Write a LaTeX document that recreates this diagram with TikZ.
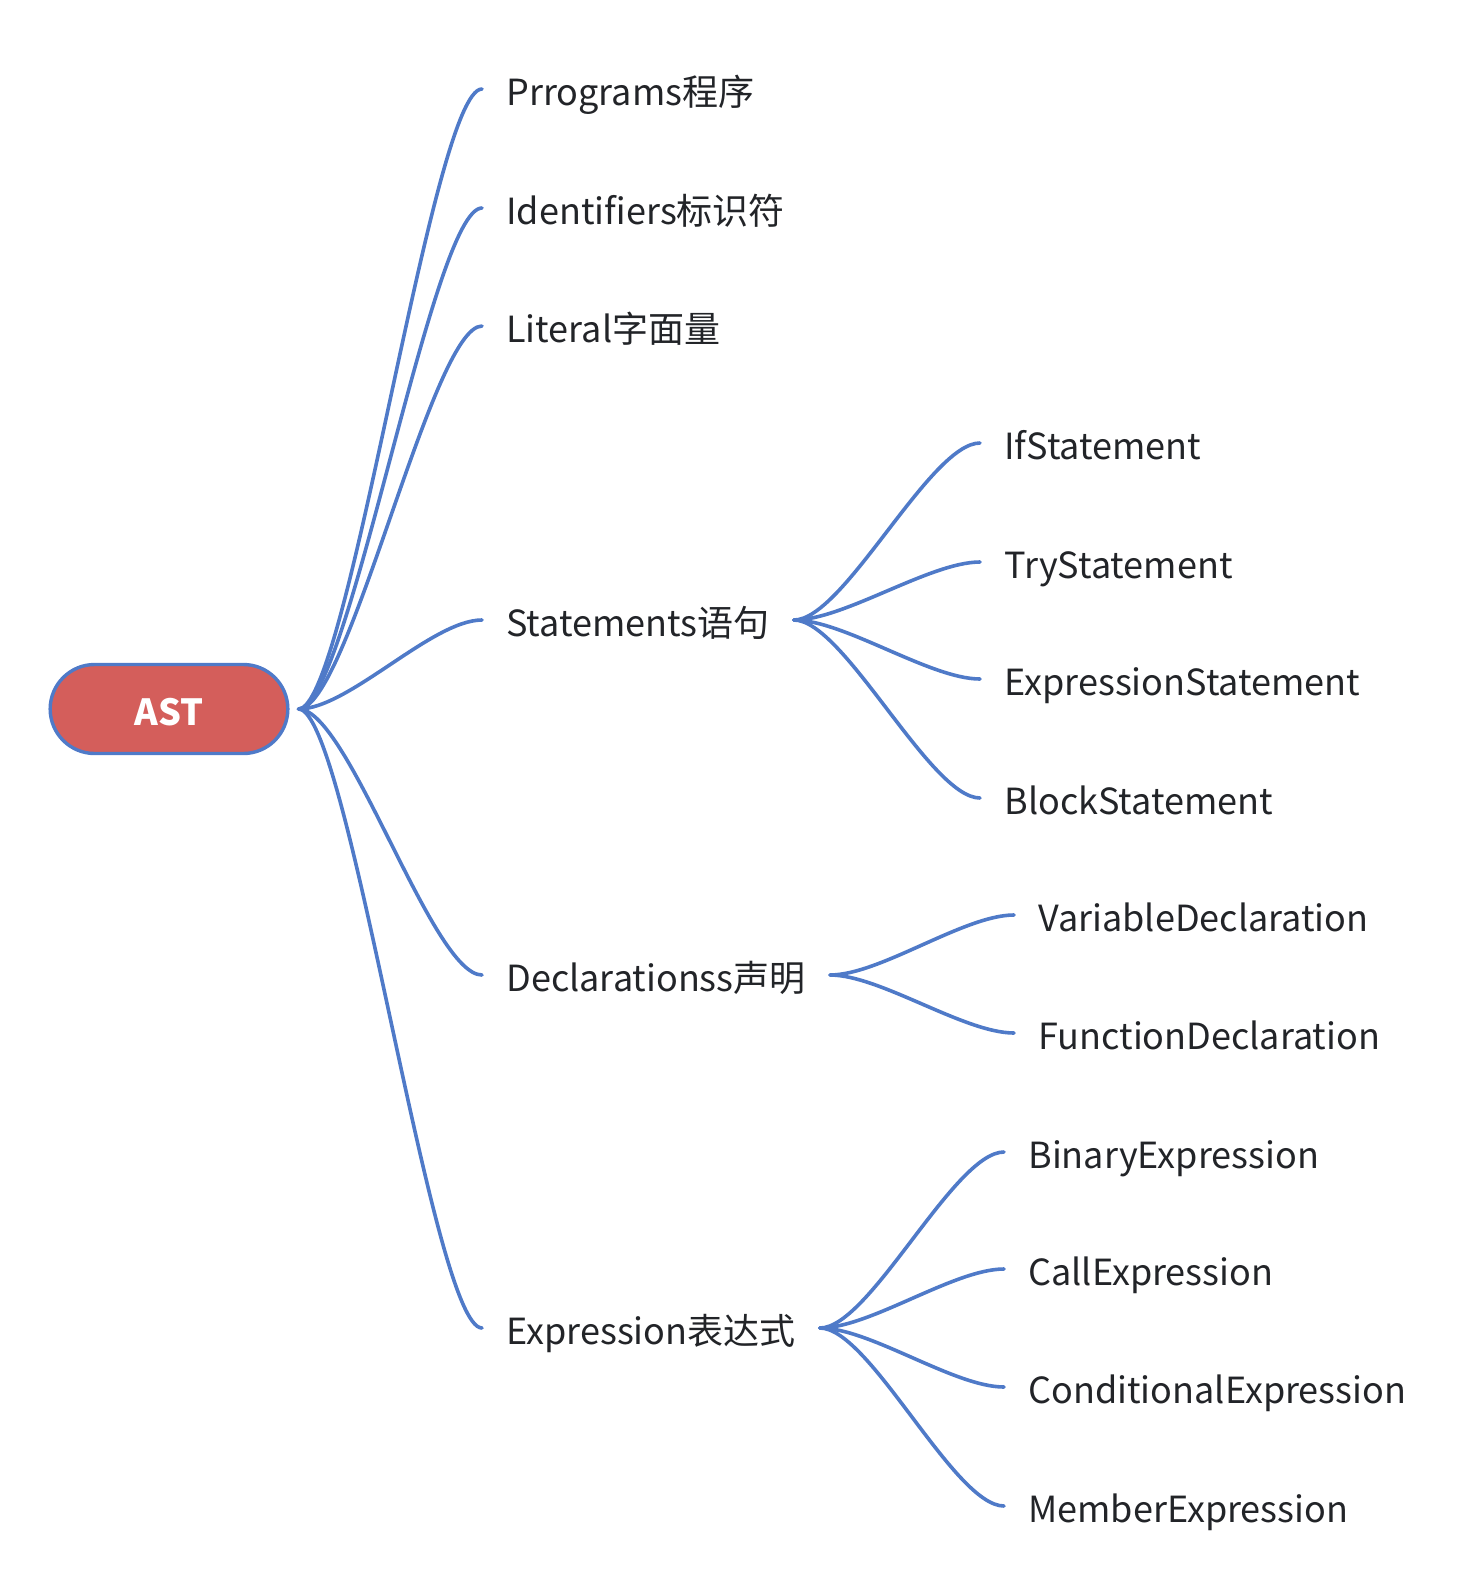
\documentclass[tikz,border=0pt]{standalone}
\usepackage{fontspec}
\setmainfont{Noto Sans CJK SC}
\usetikzlibrary{shapes.misc}
\definecolor{astred}{RGB}{212,94,91}
\definecolor{linkblue}{RGB}{79,122,200}
\definecolor{inkgray}{RGB}{34,36,40}
\tikzset{
	leaf/.style={anchor=west,inner xsep=12pt,inner ysep=0pt,text height=17pt,text depth=1pt,text=inkgray,font=\fontsize{18pt}{22pt}\selectfont},
	link/.style={draw=linkblue,line width=1.8pt,line cap=round},
	rootbox/.style={rounded rectangle,draw=linkblue,line width=1.7pt,fill=astred,text=white,text height=16pt,text depth=0pt,minimum width=125.5pt,minimum height=44.5pt,font=\fontsize{18pt}{22pt}\selectfont\bfseries},
}
\newcommand{\branch}[2]{\draw[link] (#1) .. controls +(50,0) and +(-50,0) .. (#2);}
\begin{document}
\begin{tikzpicture}[x=0.5pt,y=-0.5pt]
			\useasboundingbox (0,0) rectangle (1470,1596);
			\node[rootbox] (ast) at (169,709) {AST};
			\coordinate (astout) at ([xshift=4.5pt]ast.east);
			% first level
			\node[leaf] (prog) at (482,89) {Prrograms程序};
			\node[leaf] (ident) at (482,208) {Identifiers标识符};
			\node[leaf] (literal) at (482,326) {Literal字面量};
			\node[leaf] (stmt) at (482,620) {Statements语句};
			\node[leaf] (decl) at (482,975) {Declarationss声明};
			\node[leaf] (expr) at (482,1328) {Expression表达式};
			% second level
			\node[leaf] (ifst) at (980,443) {IfStatement};
			\node[leaf] (tryst) at (980,562) {TryStatement};
			\node[leaf] (exprst) at (980,679) {ExpressionStatement};
			\node[leaf] (blockst) at (980,798) {BlockStatement};
			\node[leaf] (vardecl) at (1014,915) {VariableDeclaration};
			\node[leaf] (fundecl) at (1014,1033) {FunctionDeclaration};
			\node[leaf] (binexpr) at (1004,1152) {BinaryExpression};
			\node[leaf] (callexpr) at (1004,1269) {CallExpression};
			\node[leaf] (condexpr) at (1004,1387) {ConditionalExpression};
			\node[leaf] (memexpr) at (1004,1506) {MemberExpression};
			% links
			\branch{astout}{prog.west}
			\branch{astout}{ident.west}
			\branch{astout}{literal.west}
			\branch{astout}{stmt.west}
			\branch{astout}{decl.west}
			\branch{astout}{expr.west}
			\branch{stmt.east}{ifst.west}
			\branch{stmt.east}{tryst.west}
			\branch{stmt.east}{exprst.west}
			\branch{stmt.east}{blockst.west}
			\branch{decl.east}{vardecl.west}
			\branch{decl.east}{fundecl.west}
			\branch{expr.east}{binexpr.west}
			\branch{expr.east}{callexpr.west}
			\branch{expr.east}{condexpr.west}
			\branch{expr.east}{memexpr.west}
		\end{tikzpicture}
\end{document}
